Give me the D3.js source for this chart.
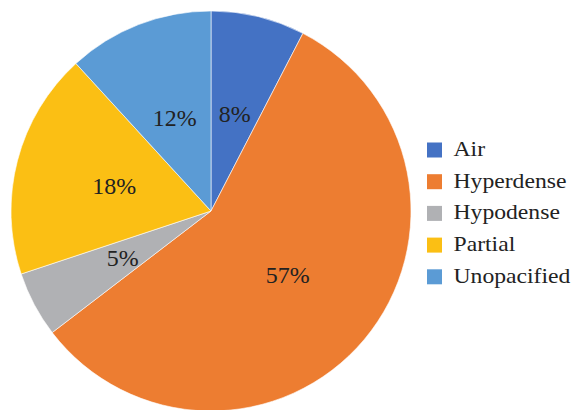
<!DOCTYPE html>
<html><head><meta charset="utf-8">
<script src="https://cdn.jsdelivr.net/npm/d3@7"></script>
<style>html,body{margin:0;padding:0;background:#fff;}
text{font-family:"Liberation Serif","Times New Roman",Times,serif;}</style>
</head><body>
<svg id="chart" width="574" height="410"></svg>
<script>
const categories = ["Air", "Hyperdense", "Hypodense", "Partial", "Unopacified"];
const values = [7.6, 57, 5.3, 18.3, 11.8];
const labels = ["8%", "57%", "5%", "18%", "12%"];
const colors = ["#4472C4", "#ED7D31", "#B0B1B4", "#FBBF14", "#5B9BD5"];

const svg = d3.select("#chart");
const cx = 211, cy = 211, R = 200;
const data = categories.map((c, i) => ({name: c, value: values[i], label: labels[i], color: colors[i]}));
const pie = d3.pie().value(d => d.value).sort(null);
const arc = d3.arc().innerRadius(0).outerRadius(R);
const g = svg.append("g").attr("transform", `translate(${cx},${cy})`);
const arcs = pie(data);
g.selectAll("path").data(arcs).join("path")
  .attr("d", arc).attr("fill", d => d.data.color)
  .attr("stroke", "#fff").attr("stroke-width", 0.6);
g.selectAll("text").data(arcs).join("text")
  .attr("transform", d => `translate(${arc.centroid(d)}) scale(1.04,1)`)
  .attr("text-anchor", "middle").attr("dy", "0.34em")
  .style("font-size", "23px").attr("fill", "#222")
  .text(d => d.data.label);

const leg = svg.append("g").attr("transform", "translate(427,150)");
const rows = leg.selectAll("g").data(data).join("g")
  .attr("transform", (d, i) => `translate(0,${i * 31.7})`);
rows.append("rect").attr("x", 0).attr("y", -7.5).attr("width", 15).attr("height", 15)
  .attr("fill", d => d.color);
rows.append("text").attr("transform", "translate(26.5,6) scale(1.1,1)")
  .style("font-size", "21.5px").attr("fill", "#222")
  .text(d => d.name);
</script>
</body></html>
